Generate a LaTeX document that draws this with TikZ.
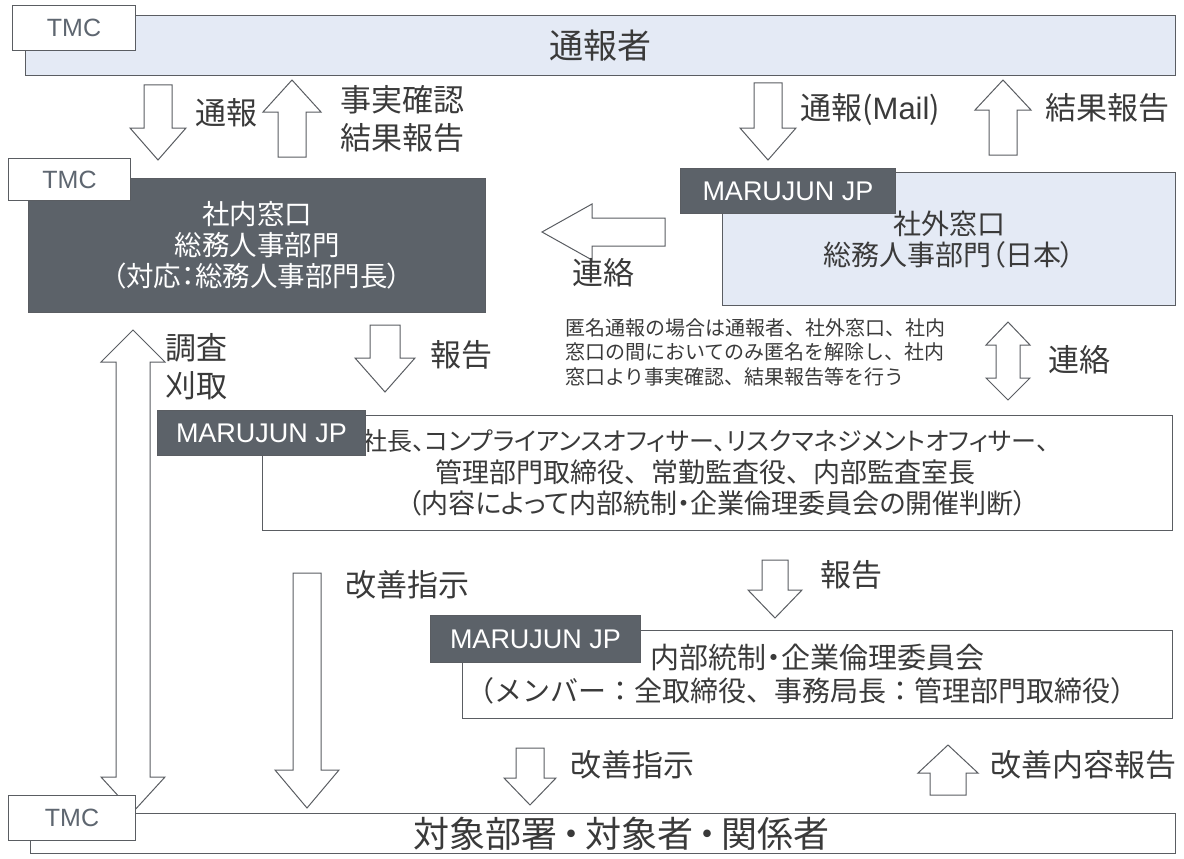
\documentclass[tikz,border=0pt]{standalone}
\usepackage{fontspec}
\setmainfont{Noto Sans CJK JP}[RawFeature={+palt}]
\newfontfamily\fw{Noto Sans CJK JP}
\newfontfamily\latinf{Liberation Sans}
\definecolor{linec}{HTML}{5A5D62}
\definecolor{darkc}{HTML}{5C6269}
\definecolor{lightc}{HTML}{E4EAF5}
\definecolor{txtc}{HTML}{3A3A3A}
\definecolor{tmcc}{HTML}{5E6670}
% vertical block arrow: x, y tail, y head base, y tip, shaft half, head half
\newcommand\blockv[6]{\draw[blk] ({#1-#5},#2) -- ({#1+#5},#2) -- ({#1+#5},#3) -- ({#1+#6},#3) -- (#1,#4) -- ({#1-#6},#3) -- ({#1-#5},#3) -- cycle;}
% horizontal block arrow: y, x tail, x head base, x tip, shaft half, head half
\newcommand\blockh[6]{\draw[blk] (#2,{#1-#5}) -- (#2,{#1+#5}) -- (#3,{#1+#5}) -- (#3,{#1+#6}) -- (#4,#1) -- (#3,{#1-#6}) -- (#3,{#1-#5}) -- cycle;}
% double vertical block arrow: x, top tip, top base, bottom base, bottom tip, shaft half, head half
\newcommand\blockdv[7]{\draw[blk] (#1,#2) -- ({#1+#7},#3) -- ({#1+#6},#3) -- ({#1+#6},#4) -- ({#1+#7},#4) -- (#1,#5) -- ({#1-#7},#4) -- ({#1-#6},#4) -- ({#1-#6},#3) -- ({#1-#7},#3) -- cycle;}
\tikzset{
  blk/.style={draw=linec, fill=white, line width=1pt, line join=miter},
  box/.style={draw=linec, line width=1pt, inner sep=0pt, anchor=north west, align=center},
  tagbox/.style={draw=linec, fill=darkc, text=white, line width=1pt, inner sep=0pt, anchor=north west,
    font=\latinf\fontsize{27}{27}\selectfont},
  tmcbox/.style={draw=linec, fill=white, text=tmcc, line width=1pt, inner sep=0pt, anchor=north west,
    font=\latinf\fontsize{25}{25}\selectfont},
  lbl/.style={text=txtc, anchor=west, align=left, inner sep=0pt, font=\fontsize{31}{38}\selectfont},
}
\begin{document}
\begin{tikzpicture}[x=1pt,y=-1pt]
\useasboundingbox (0,0) rectangle (1184,859);

% ---- arrows ----
\blockv{158}{85}{128}{160}{14}{28}
\blockv{292}{157}{112}{80}{14}{29}
\blockv{768}{83}{128}{160}{14}{28}
\blockv{1003}{155}{110}{80}{14}{28}
\blockh{232}{665}{592}{542}{14}{28}
\blockv{385}{325}{358}{392}{15}{30}
\blockdv{1008}{322}{345}{378}{400}{12}{22}
\blockdv{133}{330}{362}{777}{812}{17}{32}
\blockv{307}{573}{770}{808}{14}{32}
\blockv{775}{560}{590}{618}{13}{27}
\blockv{530}{748}{778}{805}{14}{26}
\blockv{948}{795}{773}{745}{18}{30}

% ---- top: reporter ----
\node[box, fill=lightc, minimum width=1150pt, minimum height=60pt, text=txtc,
  font=\fw\fontsize{34}{34}\selectfont] (rep) at (25,15) {通報者};
\node[tmcbox, minimum width=123pt, minimum height=45pt] (tmc1) at (12,5) {TMC};

\node[lbl] (l1) at (195,113) {通報};
\node[lbl] (l2) at (340,119) {事実確認\\結果報告};
\node[lbl] (l3) at (800,110) {通報({\latinf Mail})};
\node[lbl] (l4) at (1045,108) {結果報告};

% ---- internal window ----
\node[box, fill=darkc, text=white, minimum width=457pt, minimum height=134pt,
  font=\fontsize{27.5}{31}\selectfont] (inner) at (28,178)
  {社内窓口\\総務人事部門\\（対応：総務人事部門長）};
\node[tmcbox, minimum width=122pt, minimum height=42pt] (tmc2) at (8,158) {TMC};

% ---- external window ----
\node[box, fill=lightc, text=txtc, minimum width=453pt, minimum height=133pt,
  font=\fontsize{28}{31}\selectfont] (outer) at (722,172)
  {\\[-6pt]社外窓口\\総務人事部門（日本）};
\node[tagbox, minimum width=215pt, minimum height=45pt] (mj1) at (680,168) {MARUJUN JP};

\node[lbl] (l5) at (572,273) {連絡};
\node[lbl, font=\fw\fontsize{20}{24.5}\selectfont] (note) at (565,352)
  {匿名通報の場合は通報者、社外窓口、社内\\窓口の間においてのみ匿名を解除し、社内\\窓口より事実確認、結果報告等を行う};
\node[lbl] (l6) at (1048,360) {連絡};
\node[lbl] (l7) at (165,367) {調査\\刈取};
\node[lbl] (l8) at (430,355) {報告};

% ---- management box ----
\node[box, fill=white, text=txtc, minimum width=910pt, minimum height=115pt,
  font=\fontsize{25}{31.5}\selectfont] (mgmt) at (262,415)
  {\hspace*{-24pt}社長、コンプライアンスオフィサー、リスクマネジメントオフィサー、\\
   \hspace*{-24pt}{\fw\fontsize{27}{31.5}\selectfont 管理部門取締役、常勤監査役、内部監査室長}\\
   {\fontsize{27}{31.5}\selectfont （内容によって内部統制・企業倫理委員会の開催判断）}};
\node[tagbox, minimum width=208pt, minimum height=45pt] (mj2) at (157,410) {MARUJUN JP};

\node[lbl] (l9) at (345,585) {改善指示};
\node[lbl] (l10) at (820,575) {報告};

% ---- committee box ----
\node[box, fill=white, text=txtc, minimum width=710pt, minimum height=88pt,
  font=\fontsize{29}{33}\selectfont] (comm) at (462,630)
  {内部統制・企業倫理委員会\\\hspace*{-30pt}{\fw\fontsize{28}{33}\selectfont （メンバー：全取締役、事務局長：管理部門取締役）}};
\node[tagbox, minimum width=210pt, minimum height=47pt] (mj3) at (430,615) {MARUJUN JP};

\node[lbl] (l11) at (570,765) {改善指示};
\node[lbl] (l12) at (990,765) {改善内容報告};

% ---- bottom ----
\node[box, fill=white, text=txtc, minimum width=1145pt, minimum height=40pt,
  font=\fontsize{36}{36}\selectfont] (target) at (30,813)
  {\hspace*{36pt}対象部署\hspace{5pt}・\hspace{5pt}対象者\hspace{5pt}・\hspace{5pt}関係者};
\node[tmcbox, minimum width=127pt, minimum height=45pt] (tmc3) at (8,795) {TMC};
\end{tikzpicture}
\end{document}
